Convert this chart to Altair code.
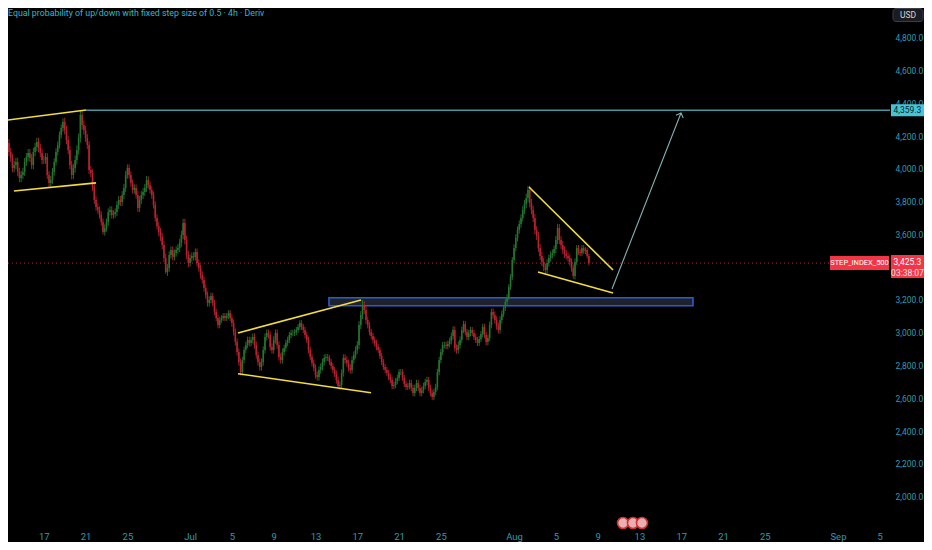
import altair as alt
import pandas as pd

# ---------------- text ----------------
TITLE = "Equal probability of up/down with fixed step size of 0.5 · 4h · Deriv"
SYMBOL = "STEP_INDEX_500"
CURRENCY = "USD"
LAST_PRICE = 3425.3
COUNTDOWN = "03:38:07"
TARGET_PRICE = 4359.3

# ---------------- candles (4h) ----------------
FIRST_CANDLE = "2025-06-13T00:00:00Z"
FIRST_OPEN = 4290
closes = [
    4269, 4238, 4195, 4159, 4104, 4067,
    4006, 4024, 4043, 3982, 3945, 3963,
    3982, 4043, 4073, 4098, 4067, 4024,
    4104, 4134, 4165, 4128, 4098, 4055,
    4055, 4073, 3963, 3914, 3933, 3982,
    4043, 4104, 4146, 4208, 4250, 4287,
    4238, 4177, 4116, 4024, 3963, 4006,
    4055, 4116, 4189, 4330, 4269, 4238,
    4189, 4146, 3994, 3975, 3890, 3811,
    3768, 3750, 3719, 3676, 3615, 3640,
    3676, 3737, 3750, 3719, 3725, 3737,
    3780, 3811, 3798, 3841, 3884, 3963,
    4006, 3963, 3914, 3872, 3884, 3841,
    3762, 3811, 3841, 3859, 3884, 3933,
    3902, 3872, 3841, 3780, 3701, 3652,
    3615, 3585, 3536, 3456, 3371, 3395,
    3475, 3505, 3463, 3487, 3505, 3518,
    3548, 3597, 3670, 3566, 3475, 3426,
    3456, 3469, 3463, 3493, 3426, 3395,
    3353, 3322, 3273, 3230, 3182, 3200,
    3224, 3182, 3127, 3090, 3047, 3078,
    3090, 3102, 3090, 3102, 3120, 3090,
    3059, 3004, 2943, 2882, 2821, 2760,
    2834, 2895, 2925, 2956, 2937, 2956,
    2974, 2925, 2864, 2821, 2791, 2821,
    2895, 2974, 2998, 2986, 2913, 2895,
    2956, 2998, 2925, 2852, 2834, 2882,
    2907, 2937, 2956, 2986, 2998, 2998,
    3004, 3017, 3035, 3059, 3035, 3017,
    2986, 2956, 2895, 2852, 2815, 2785,
    2742, 2730, 2773, 2791, 2821, 2846,
    2852, 2846, 2821, 2797, 2773, 2748,
    2711, 2675, 2681, 2754, 2846, 2834,
    2815, 2785, 2773, 2834, 2864, 2895,
    2925, 3047, 3108, 3169, 3139, 3078,
    3047, 3004, 2980, 2956, 2937, 2913,
    2895, 2858, 2821, 2791, 2773, 2754,
    2730, 2711, 2675, 2681, 2705, 2724,
    2760, 2760, 2724, 2687, 2669, 2675,
    2693, 2663, 2632, 2663, 2693, 2663,
    2632, 2650, 2675, 2699, 2711, 2663,
    2632, 2608, 2638, 2669, 2760, 2834,
    2882, 2925, 2925, 2919, 2931, 2950,
    2980, 3017, 2907, 2895, 2925, 2956,
    3017, 3053, 3004, 2974, 2998, 3017,
    2998, 2974, 2956, 2937, 2962, 2992,
    3035, 2986, 2943, 2968, 3047, 3127,
    3108, 3078, 3041, 3017, 3078, 3114,
    3151, 3188, 3218, 3279, 3340, 3444,
    3518, 3579, 3627, 3664, 3701, 3750,
    3786, 3823, 3872, 3792, 3750, 3701,
    3627, 3591, 3518, 3469, 3432, 3401,
    3383, 3426, 3456, 3475, 3487, 3511,
    3566, 3640, 3566, 3536, 3505, 3481,
    3469, 3456, 3432, 3395, 3347, 3432,
    3518, 3493, 3487, 3518, 3499, 3505,
    3468, 3425.3,
]
# typical wick length per day (price units)
day_wicks = [24, 26, 24, 26, 24, 22, 26, 28, 24, 22, 22, 24, 22, 24, 22, 24, 22, 26, 22,
             22, 20, 18, 22, 20, 22, 22, 22, 20, 18, 20, 22, 18, 22, 22, 24, 20, 18, 20,
             18, 20, 20, 20, 20, 22, 20, 18, 20, 22, 18, 22, 26, 24, 22, 24, 22, 18, 14]
high_overrides = {45: 4360, 207: 3200, 302: 3895, 319: 3665}
low_overrides = {58: 3600, 94: 3360, 137: 2740, 193: 2660, 247: 2590, 328: 3330}

# ---------------- axes ----------------
# (3,400 sits under the last-price tag in the reference, so it is not shown)
price_ticks = [1800, 2000, 2200, 2400, 2600, 2800, 3000, 3200, 3600,
               3800, 4000, 4200, 4400, 4600, 4800]
date_ticks = ["2025-06-13", "2025-06-17", "2025-06-21", "2025-06-25", "2025-07-01",
              "2025-07-05", "2025-07-09", "2025-07-13", "2025-07-17", "2025-07-21",
              "2025-07-25", "2025-08-01", "2025-08-05", "2025-08-09", "2025-08-13",
              "2025-08-17", "2025-08-21", "2025-08-25", "2025-09-01", "2025-09-05"]
X_START = "2025-06-13T13:47:00Z"
X_END = "2025-09-05T23:30:00Z"
Y_MIN, Y_MAX = 1820, 4983

# ---------------- drawings ----------------
trend_t1 = ["2025-06-12T19:20:00Z", "2025-06-14T03:30:00Z", "2025-07-05T14:00:00Z",
            "2025-07-05T14:00:00Z", "2025-08-02T10:20:00Z", "2025-08-03T07:00:00Z"]
trend_p1 = [4293, 3866, 2999, 2750, 3890, 3371]
trend_t2 = ["2025-06-21T01:00:00Z", "2025-06-22T00:00:00Z", "2025-07-17T08:30:00Z",
            "2025-07-18T07:30:00Z", "2025-08-10T11:20:00Z", "2025-08-10T11:20:00Z"]
trend_p2 = [4360, 3915, 3200, 2634, 3383, 3243]

zone_t = ["2025-07-14T07:00:00Z", "2025-08-18T03:00:00Z"]
zone_p = [3165, 3214]
target_t = ["2025-06-21T01:00:00Z", X_END]
arrow_t = ["2025-08-10T09:00:00Z", "2025-08-16T23:30:00Z"]
arrow_p = [3267, 4342]
last_line_t = [X_START, "2025-08-31T05:30:00Z"]
event_t = ["2025-08-11T10:20:00Z", "2025-08-12T09:10:00Z", "2025-08-13T05:50:00Z"]

# ---------------- styles ----------------
BG = "#000000"
GREEN = "#23782f"
RED = "#bd2130"
YELLOW = "#f2dd3d"
TEAL = "#4796a0"
AXIS_COL = "#2a9db0"
TITLE_COL = "#32b7cb"
FONT = "Roboto"
W, H = 882, 518


def ms(s):
    return int(pd.Timestamp(s).timestamp() * 1000)


# ---------------- data frames ----------------
assert len(day_wicks) * 6 >= len(closes)
times = pd.date_range(FIRST_CANDLE, periods=len(closes), freq="4h")
opens = [FIRST_OPEN] + closes[:-1]
rows = []
for i, (t, o, c) in enumerate(zip(times, opens, closes)):
    w = day_wicks[i // 6]
    hi = high_overrides.get(i, max(o, c) + w)
    lo = low_overrides.get(i, min(o, c) - w)
    rows.append({"t": t.strftime("%Y-%m-%dT%H:%M:%SZ"), "open": o, "close": c,
                 "high": hi, "low": lo, "dir": "up" if c >= o else "down"})
candles = pd.DataFrame(rows)

trends = pd.DataFrame({"t": trend_t1, "p": trend_p1, "t2": trend_t2, "p2": trend_p2})
zone = pd.DataFrame({"t": [zone_t[0]], "t2": [zone_t[1]], "p": [zone_p[0]], "p2": [zone_p[1]]})
target = pd.DataFrame({"t": [target_t[0]], "t2": [target_t[1]], "p": [TARGET_PRICE]})
arrow = pd.DataFrame({"t": [arrow_t[0]], "t2": [arrow_t[1]], "p": [arrow_p[0]], "p2": [arrow_p[1]]})
arrow_head = pd.DataFrame({"t": [arrow_t[1]], "p": [arrow_p[1]]})
last_line = pd.DataFrame({"t": [last_line_t[0]], "t2": [last_line_t[1]], "p": [LAST_PRICE]})
events = pd.DataFrame({"t": event_t})
labels_last = pd.DataFrame({"p": [LAST_PRICE], "price": [f"{LAST_PRICE:,.1f}"],
                            "cd": [COUNTDOWN], "sym": [SYMBOL]})
labels_target = pd.DataFrame({"p": [TARGET_PRICE], "price": [f"{TARGET_PRICE:,.1f}"]})
title_df = pd.DataFrame({"label": [TITLE]})
cur_df = pd.DataFrame({"label": [CURRENCY]})

# ---------------- scales / axes ----------------
xscale = alt.Scale(type="utc", domain=[ms(X_START), ms(X_END)])
yscale = alt.Scale(domain=[Y_MIN, Y_MAX], zero=False, nice=False)
xaxis = alt.Axis(values=[ms(d + "T00:00:00Z") for d in date_ticks],
                 labelExpr="utcdate(datum.value) == 1 ? utcFormat(datum.value, '%b') : '' + utcdate(datum.value)",
                 domain=False, ticks=False, grid=False, title=None,
                 labelColor=AXIS_COL, labelFont=FONT, labelFontSize=9.5,
                 labelPadding=5, labelFlush=False, labelOverlap=False)
yaxis = alt.Axis(orient="right", values=price_ticks, format=",.1f",
                 domain=False, ticks=False, grid=False, title=None,
                 labelColor=AXIS_COL, labelFont=FONT, labelFontSize=8.5,
                 labelPadding=5, labelOverlap=False, labelFlush=False)


def X(f):
    return alt.X(f"{f}:T", scale=xscale, axis=xaxis)


def Y(f):
    return alt.Y(f"{f}:Q", scale=yscale, axis=yaxis)


# ---------------- layers ----------------
zone_layer = alt.Chart(zone).mark_rect(fill="#1d222c", stroke="#2c5bd0", strokeWidth=1.6).encode(
    x=X("t"), x2="t2", y=Y("p"), y2="p2")

target_layer = alt.Chart(target).mark_rule(color=TEAL, strokeWidth=1.5, clip=True).encode(
    x=X("t"), x2="t2", y=Y("p"))

last_layer = alt.Chart(last_line).mark_rule(color=RED, strokeWidth=1, strokeDash=[1, 3], clip=True).encode(
    x=X("t"), x2="t2", y=Y("p"))

color = alt.Color("dir:N", scale=alt.Scale(domain=["up", "down"], range=[GREEN, RED]), legend=None)
wick_layer = alt.Chart(candles).mark_rule(strokeWidth=0.9, clip=True).encode(
    x=X("t"), y=Y("low"), y2="high", color=color)
body_layer = alt.Chart(candles).mark_rule(strokeWidth=1.6, clip=True).encode(
    x=X("t"), y=Y("open"), y2="close", color=color)

trend_layer = alt.Chart(trends).mark_rule(color=YELLOW, strokeWidth=1.6, clip=True).encode(
    x=X("t"), x2="t2", y=Y("p"), y2="p2")

arrow_layer = alt.Chart(arrow).mark_rule(color="#84b3b5", strokeWidth=1.1).encode(
    x=X("t"), x2="t2", y=Y("p"), y2="p2")
head_layer = alt.Chart(arrow_head).mark_point(
    shape="M-1,1L0,0L1,1", size=60, angle=21, filled=False, stroke="#84b3b5",
    strokeWidth=1.1, opacity=1).encode(x=X("t"), y=Y("p"))

event_layer = alt.Chart(events).mark_point(
    shape="circle", size=120, fill="#e7b0b3", fillOpacity=1, stroke="#d32f2f",
    strokeWidth=1.6, opacity=1).encode(x=X("t"), y=alt.value(515))

# price-axis tags
target_box = alt.Chart(labels_target).mark_rect(
    fill="#46c3d6", yOffset=-6, y2Offset=6).encode(
    x=alt.value(883), x2=alt.value(916), y=Y("p"), y2="p")
target_txt = alt.Chart(labels_target).mark_text(
    font=FONT, fontSize=8.5, color="#08242a", align="center", baseline="middle").encode(
    x=alt.value(899.5), y=Y("p"), text="price:N")

last_box = alt.Chart(labels_last).mark_rect(
    fill="#f23645", yOffset=-8, y2Offset=15).encode(
    x=alt.value(883), x2=alt.value(916), y=Y("p"), y2="p")
last_txt = alt.Chart(labels_last).mark_text(
    font=FONT, fontSize=8.5, color="#ffffff", align="center", baseline="middle", dy=-1).encode(
    x=alt.value(899.5), y=Y("p"), text="price:N")
cd_txt = alt.Chart(labels_last).mark_text(
    font=FONT, fontSize=8.5, color="#ffe3e5", align="center", baseline="middle", dy=10).encode(
    x=alt.value(899.5), y=Y("p"), text="cd:N")
sym_box = alt.Chart(labels_last).mark_rect(
    fill="#f23645", yOffset=-7, y2Offset=7).encode(
    x=alt.value(822), x2=alt.value(881), y=Y("p"), y2="p")
sym_txt = alt.Chart(labels_last).mark_text(
    font=FONT, fontSize=7.5, color="#ffffff", align="center", baseline="middle").encode(
    x=alt.value(851.5), y=Y("p"), text="sym:N")

cur_box = alt.Chart(cur_df).mark_rect(
    fill="#1a1c22", stroke="#3a3e48", strokeWidth=1, cornerRadius=3).encode(
    x=alt.value(885), x2=alt.value(915), y=alt.value(0.5), y2=alt.value(13.5))
cur_txt = alt.Chart(cur_df).mark_text(
    font=FONT, fontSize=8.5, color="#d1d4dc", align="center", baseline="middle").encode(
    x=alt.value(900), y=alt.value(7), text="label:N")

title_txt = alt.Chart(title_df).mark_text(
    font=FONT, fontSize=8.8, color=TITLE_COL, align="left", baseline="top").encode(
    x=alt.value(0), y=alt.value(1), text="label:N")

chart = alt.layer(
    zone_layer, target_layer, last_layer, wick_layer, body_layer, trend_layer,
    arrow_layer, head_layer, event_layer,
    target_box, target_txt, sym_box, sym_txt, last_box, last_txt, cd_txt,
    cur_box, cur_txt, title_txt,
).properties(
    width=W, height=H,
    autosize=alt.AutoSizeParams(type="none"),
    padding={"left": 0, "top": 0, "right": 34, "bottom": 16},
    background=BG,
).configure_view(stroke=None)

chart.save("out.html", embed_options={"renderer": "svg", "actions": False})
